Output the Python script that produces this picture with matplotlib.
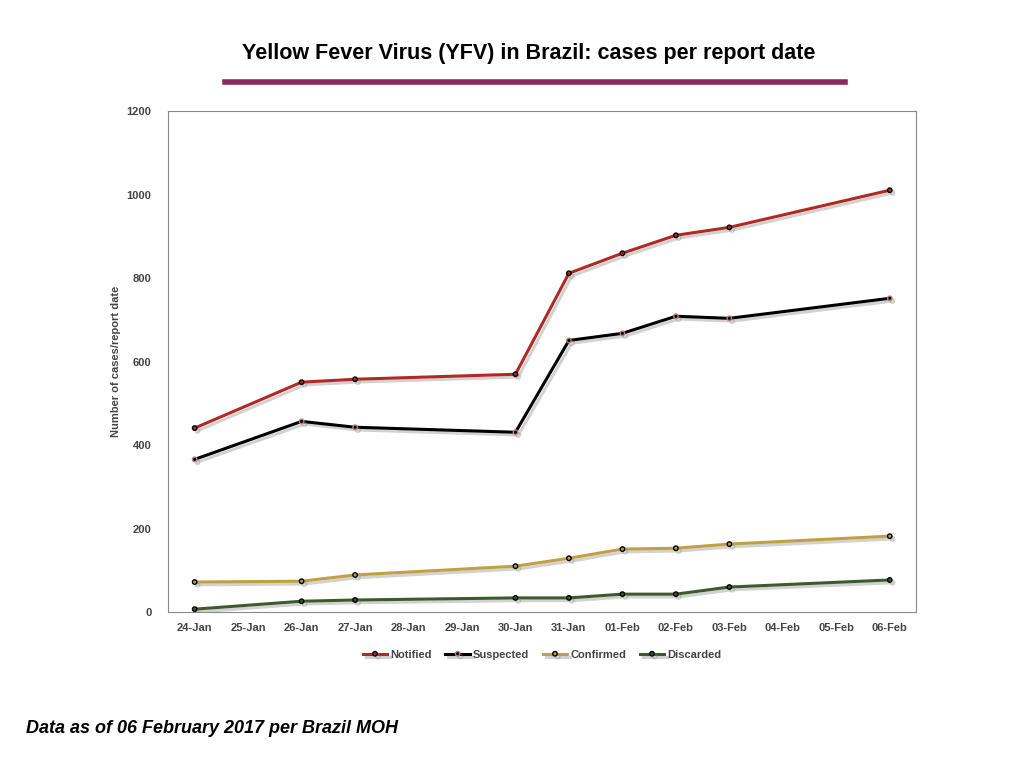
import matplotlib.pyplot as plt
import matplotlib.patheffects as pe
import numpy as np

plt.rcParams['font.family'] = ['Liberation Sans', 'DejaVu Sans']

dates = ['24-Jan', '25-Jan', '26-Jan', '27-Jan', '28-Jan', '29-Jan', '30-Jan',
         '31-Jan', '01-Feb', '02-Feb', '03-Feb', '04-Feb', '05-Feb', '06-Feb']
report_idx = [0, 2, 3, 6, 7, 8, 9, 10, 13]
notified = [441, 551, 558, 570, 812, 860, 903, 922, 1011]
suspected = [366, 457, 443, 431, 651, 668, 709, 704, 752]
confirmed = [72, 74, 89, 110, 129, 151, 153, 163, 182]
discarded = [7, 26, 29, 34, 34, 43, 43, 60, 77]

fig = plt.figure(figsize=(10.24, 7.68), dpi=100)
ax = fig.add_axes([0.164, 0.203, 0.731, 0.652])

series = [
    ('Notified', notified, '#b02a22', 'black'),
    ('Suspected', suspected, 'black', '#b08070'),
    ('Confirmed', confirmed, '#c0a040', 'black'),
    ('Discarded', discarded, '#3d5a2c', 'black'),
]
shadow = [pe.SimpleLineShadow(offset=(2, -2), alpha=0.35, shadow_color='gray'), pe.Normal()]
for name, vals, col, mcol in series:
    ax.plot(report_idx, vals, color=col, lw=2.2, marker='o', ms=3.2,
            mfc=col, mec=mcol, mew=1, label=name, path_effects=shadow)

ax.set_xlim(-0.5, 13.5)
ax.set_ylim(0, 1200)
ax.set_xticks(range(len(dates)))
ax.set_xticklabels(dates, fontsize=8, fontweight='bold', color='#444444')
ax.set_yticks(np.arange(0, 1201, 200))
ax.tick_params(axis='y', labelsize=8, labelcolor='#444444', length=0, pad=12)
ax.tick_params(axis='x', length=0, pad=8)
for lab in ax.get_yticklabels():
    lab.set_fontweight('bold')
ax.set_ylabel('Number of cases/report date', fontsize=8, fontweight='bold', color='#444444')
for s in ax.spines.values():
    s.set_color('#888888')
    s.set_linewidth(0.8)

ax.legend(loc='upper center', bbox_to_anchor=(0.5, -0.055), ncol=4, frameon=False,
          handlelength=2.2, prop={'weight': 'bold', 'size': 8},
          labelcolor='#444444', columnspacing=1.2, handletextpad=0.3)

fig.text(0.516, 0.93, 'Yellow Fever Virus (YFV) in Brazil: cases per report date',
         ha='center', va='center', fontsize=15.5, fontweight='bold')
fig.add_artist(plt.Line2D([0.22, 0.825], [0.893, 0.893], color='#8a2a5a', lw=4))
fig.text(0.025, 0.045, 'Data as of 06 February 2017 per Brazil MOH',
         fontsize=13, fontweight='bold', style='italic')

fig.savefig('out.png', dpi=100)
